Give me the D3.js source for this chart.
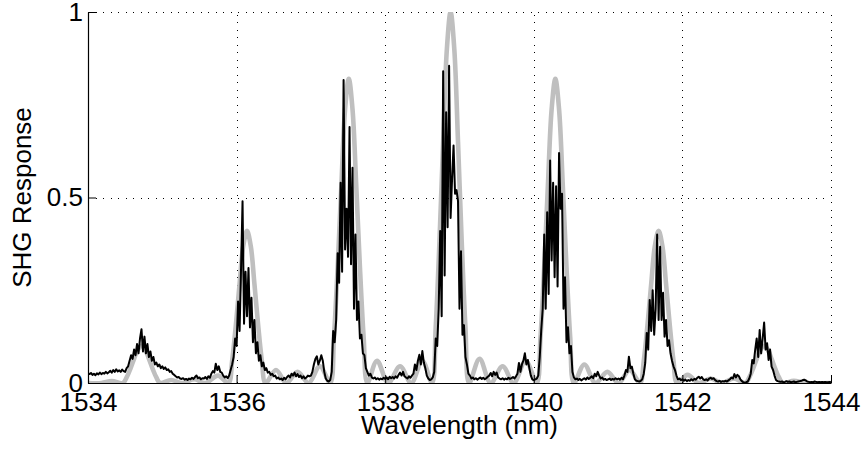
<!DOCTYPE html>
<html><head><meta charset="utf-8">
<script src="https://cdn.jsdelivr.net/npm/d3@7"></script>
<style>
body{margin:0;background:#fff}
svg{display:block}
text{font-family:"Liberation Sans",Arial,Helvetica,sans-serif;fill:#000}
</style>
</head><body>
<svg id="chart" width="864" height="450"></svg>
<script>
// ---------------- data ----------------
const xDomain = [1534, 1544];
const yDomain = [0, 1];
const xTicks = [1534, 1536, 1538, 1540, 1542, 1544];
const yTicks = [0, 0.5, 1];
const yTickLabels = ["0", "0.5", "1"];
const xLabel = "Wavelength (nm)";
const yLabel = "SHG Response";

// measured SHG response, sampled every 0.02 nm from 1534 nm
const measuredStart = 1534;
const measuredStep = 0.02;
const measured = [
// 1534
0.026,0.024,0.027,0.022,0.025,0.021,0.026,0.023,0.028,0.024,
0.027,0.025,0.030,0.026,0.029,0.033,0.028,0.035,0.030,0.037,
0.031,0.034,0.030,0.036,0.032,0.030,0.040,0.045,0.060,0.075,
0.065,0.090,0.075,0.105,0.080,0.120,0.145,0.085,0.125,0.080,
0.105,0.070,0.085,0.060,0.070,0.050,0.055,0.045,0.050,0.040,
// 1535
0.045,0.038,0.042,0.035,0.037,0.030,0.032,0.025,0.022,0.018,
0.015,0.016,0.012,0.011,0.013,0.009,0.011,0.008,0.012,0.010,
0.014,0.011,0.016,0.020,0.013,0.015,0.010,0.013,0.012,0.016,
0.011,0.018,0.014,0.025,0.032,0.028,0.052,0.035,0.045,0.030,
0.028,0.020,0.015,0.018,0.013,0.020,0.035,0.050,0.070,0.120,
// 1536
0.100,0.220,0.140,0.310,0.490,0.160,0.300,0.180,0.310,0.150,
0.230,0.110,0.170,0.080,0.110,0.060,0.075,0.045,0.055,0.035,
0.040,0.028,0.030,0.022,0.025,0.018,0.020,0.012,0.015,0.010,
0.012,0.008,0.014,0.010,0.016,0.020,0.015,0.025,0.020,0.028,
0.018,0.024,0.016,0.020,0.013,0.018,0.012,0.015,0.020,0.018,
// 1537
0.020,0.030,0.050,0.065,0.072,0.050,0.060,0.075,0.060,0.030,
0.012,0.006,0.004,0.008,0.030,0.140,0.110,0.170,0.350,0.270,
0.540,0.300,0.817,0.360,0.470,0.340,0.690,0.320,0.580,0.200,
0.400,0.170,0.220,0.120,0.130,0.080,0.075,0.040,0.030,0.020,
0.025,0.015,0.012,0.015,0.010,0.013,0.009,0.012,0.010,0.014,
// 1538
0.011,0.015,0.010,0.017,0.013,0.016,0.012,0.018,0.014,0.022,
0.028,0.020,0.030,0.018,0.015,0.012,0.018,0.014,0.020,0.025,
0.050,0.035,0.060,0.076,0.050,0.086,0.055,0.040,0.020,0.012,
0.008,0.010,0.015,0.030,0.120,0.100,0.200,0.410,0.180,0.840,
0.290,0.730,0.420,0.855,0.445,0.550,0.640,0.510,0.520,0.490,
// 1539
0.200,0.355,0.130,0.156,0.070,0.050,0.025,0.020,0.012,0.015,
0.010,0.013,0.009,0.012,0.015,0.011,0.014,0.010,0.013,0.017,
0.020,0.027,0.018,0.030,0.022,0.028,0.015,0.012,0.010,0.013,
0.009,0.012,0.010,0.014,0.011,0.013,0.016,0.012,0.018,0.025,
0.054,0.030,0.050,0.060,0.080,0.050,0.062,0.040,0.020,0.010,
// 1540
0.008,0.010,0.012,0.020,0.070,0.143,0.200,0.400,0.200,0.460,
0.240,0.600,0.330,0.540,0.285,0.530,0.260,0.620,0.470,0.510,
0.200,0.285,0.110,0.150,0.080,0.100,0.030,0.015,0.010,0.012,
0.008,0.011,0.007,0.010,0.013,0.009,0.015,0.011,0.014,0.018,
0.013,0.025,0.018,0.030,0.020,0.012,0.015,0.009,0.011,0.008,
// 1541
0.010,0.012,0.008,0.011,0.009,0.013,0.010,0.012,0.009,0.014,
0.010,0.020,0.035,0.030,0.071,0.040,0.044,0.025,0.010,0.006,
0.005,0.004,0.006,0.010,0.025,0.054,0.135,0.090,0.224,0.140,
0.250,0.130,0.200,0.400,0.170,0.367,0.170,0.243,0.125,0.170,
0.100,0.115,0.080,0.060,0.045,0.035,0.020,0.010,0.012,0.008,
// 1542
0.010,0.006,0.009,0.005,0.008,0.006,0.010,0.007,0.011,0.009,
0.014,0.017,0.012,0.016,0.010,0.008,0.010,0.007,0.012,0.014,
0.011,0.013,0.008,0.005,0.004,0.006,0.003,0.005,0.004,0.006,
0.004,0.007,0.010,0.015,0.012,0.024,0.015,0.022,0.018,0.010,
0.005,0.002,0.001,0.002,0.004,0.012,0.025,0.062,0.053,0.090,
// 1543
0.120,0.070,0.143,0.080,0.120,0.163,0.090,0.107,0.062,0.090,
0.044,0.035,0.020,0.008,0.005,0.004,0.003,0.004,0.002,0.003,
0.005,0.003,0.004,0.002,0.003,0.004,0.002,0.003,0.004,0.005,
0.006,0.008,0.009,0.007,0.004,0.003,0.002,0.003,0.002,0.004,
0.003,0.002,0.003,0.002,0.003,0.002,0.003,0.002,0.002,0.003,
// 1544
0.002
];

// theoretical response (read at its key points: lobe centres, half heights, nulls)
const theoryWl = [
1534.00,1534.18,1534.32,1534.47,
1534.52,1534.57,1534.62,1534.67,1534.72,1534.77,1534.82,1534.87,1534.92,1534.97,
1535.12,1535.27,1535.43,1535.58,1535.75,1535.89,
1535.94,1535.99,1536.04,1536.09,1536.14,1536.19,1536.24,1536.29,1536.34,1536.39,
1536.53,1536.67,1536.82,1536.97,1537.12,1537.26,
1537.31,1537.36,1537.41,1537.46,1537.51,1537.56,1537.61,1537.66,1537.71,1537.76,
1537.89,1538.04,1538.20,1538.35,1538.50,1538.63,
1538.68,1538.73,1538.78,1538.83,1538.88,1538.93,1538.98,1539.03,1539.08,1539.13,
1539.27,1539.42,1539.58,1539.73,1539.89,1540.04,
1540.09,1540.14,1540.19,1540.24,1540.29,1540.34,1540.39,1540.44,1540.49,1540.54,
1540.68,1540.83,1540.99,1541.14,1541.29,1541.43,
1541.48,1541.53,1541.58,1541.63,1541.68,1541.73,1541.78,1541.83,1541.88,1541.93,
1542.07,1542.22,1542.38,1542.53,1542.69,1542.85,
1542.90,1542.95,1543.00,1543.05,1543.10,1543.15,1543.20,1543.25,1543.30,1543.35,
1543.50,1543.65,1544.00
];
const theoryVal = [
0,0,0.005,0,
0.015,0.038,0.065,0.09,0.1,0.09,0.065,0.038,0.015,0,
0.008,0,0.01,0,0.02,0,
0.06,0.156,0.267,0.37,0.41,0.37,0.267,0.156,0.06,0,
0.035,0,0.03,0,0.045,0,
0.123,0.312,0.533,0.738,0.82,0.738,0.533,0.312,0.123,0,
0.06,0,0.045,0,0.06,0,
0.15,0.38,0.65,0.9,1.0,0.9,0.65,0.38,0.15,0,
0.065,0,0.045,0,0.06,0,
0.123,0.312,0.533,0.738,0.82,0.738,0.533,0.312,0.123,0,
0.05,0,0.03,0,0.035,0,
0.06,0.156,0.267,0.37,0.41,0.37,0.267,0.156,0.06,0,
0.022,0,0.012,0,0.012,0,
0.015,0.038,0.065,0.09,0.1,0.09,0.065,0.038,0.015,0,
0.006,0,0
];

// ---------------- layout ----------------
const W = 864, H = 450;
const plot = {left: 88, right: 831, top: 12, bottom: 383};
const fontSize = 26;

const svg = d3.select("#chart");
const x = d3.scaleLinear().domain(xDomain).range([plot.left, plot.right]);
const y = d3.scaleLinear().domain(yDomain).range([plot.bottom, plot.top]);

svg.append("defs").append("clipPath").attr("id", "clip")
  .append("rect")
  .attr("x", plot.left).attr("y", plot.top)
  .attr("width", plot.right - plot.left).attr("height", plot.bottom - plot.top);

// grid
const grid = svg.append("g").attr("class", "grid");
grid.append("g")
  .attr("transform", `translate(0,${plot.bottom})`)
  .call(d3.axisBottom(x).tickValues(xTicks.slice(1)).tickSize(-(plot.bottom - plot.top)).tickFormat(""))
  .call(g => g.select(".domain").remove());
grid.append("g")
  .attr("transform", `translate(${plot.left},0)`)
  .call(d3.axisLeft(y).tickValues(yTicks.slice(1)).tickSize(-(plot.right - plot.left)).tickFormat(""))
  .call(g => g.select(".domain").remove());
grid.selectAll("line")
  .attr("stroke", "#000").attr("stroke-width", 1)
  .attr("stroke-dasharray", "1,6.5").attr("shape-rendering", "crispEdges");

// lines
const theory = theoryWl.map((w, i) => [w, theoryVal[i]]);
const meas = measured.map((v, i) => [measuredStart + i * measuredStep, v]);

const lines = svg.append("g").attr("clip-path", "url(#clip)");
lines.append("path")
  .datum(theory)
  .attr("fill", "none")
  .attr("stroke", "#bfbfbf")
  .attr("stroke-width", 4.6)
  .attr("stroke-linejoin", "round")
  .attr("d", d3.line().x(d => x(d[0])).y(d => y(d[1])).curve(d3.curveCatmullRom.alpha(0.5)));
lines.append("path")
  .datum(meas)
  .attr("fill", "none")
  .attr("stroke", "#000")
  .attr("stroke-width", 2)
  .attr("stroke-linejoin", "round")
  .attr("d", d3.line().x(d => x(d[0])).y(d => y(d[1])));

// axes
const xAxis = svg.append("g")
  .attr("transform", `translate(0,${plot.bottom})`)
  .call(d3.axisBottom(x).tickValues(xTicks).tickSizeInner(-8).tickSizeOuter(0).tickPadding(10).tickFormat(d3.format("d")));
const yAxis = svg.append("g")
  .attr("transform", `translate(${plot.left},0)`)
  .call(d3.axisLeft(y).tickValues(yTicks).tickSizeInner(-8).tickSizeOuter(0).tickPadding(5)
    .tickFormat((d, i) => yTickLabels[i]));
[xAxis, yAxis].forEach(a => {
  a.selectAll("path.domain").attr("stroke", "#000").attr("stroke-width", 1.2);
  a.selectAll(".tick line").attr("stroke", "#000").attr("stroke-width", 1);
  a.selectAll("text").attr("font-size", fontSize).attr("font-family", null).style("fill", "#000");
});

// axis labels
svg.append("text")
  .attr("x", (plot.left + plot.right) / 2).attr("y", 434)
  .attr("text-anchor", "middle").attr("font-size", fontSize)
  .text(xLabel);
svg.append("text")
  .attr("transform", `translate(31,${(plot.top + plot.bottom) / 2}) rotate(-90)`)
  .attr("text-anchor", "middle").attr("font-size", fontSize)
  .text(yLabel);
</script>
</body></html>
